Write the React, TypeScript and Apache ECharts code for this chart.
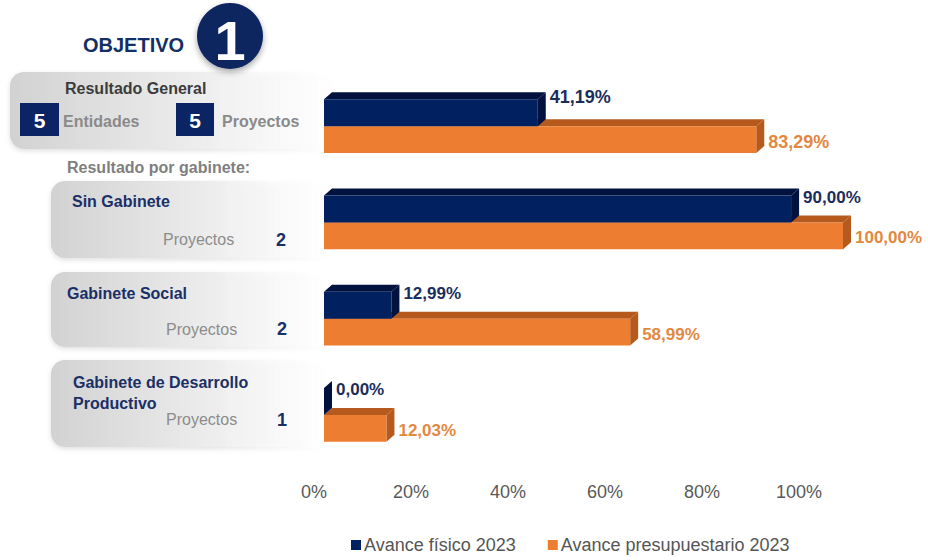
import React, { useEffect, useRef } from "react";
import * as echarts from "echarts";

const generalCategory = ["Resultado General"];
const generalFisico = [41.19];
const generalPresup = [83.29];
const gabinetes = ["Sin Gabinete", "Gabinete Social", "Gabinete de Desarrollo Productivo"];
const fisico = [90.0, 12.99, 0.0];
const presupuestario = [100.0, 58.99, 12.03];
const proyectosPorGabinete = [2, 2, 1];
const totalEntidades = 5;
const totalProyectos = 5;
const seriesNames = ["Avance físico 2023", "Avance presupuestario 2023"];
const axisTicks = { min: 0, max: 100, interval: 20 };

const categories = [...generalCategory, ...gabinetes];
const fisicoAll = [...generalFisico, ...fisico];
const presupAll = [...generalPresup, ...presupuestario];

const FONT = '"Liberation Sans", Arial, sans-serif';
const NAVY = "#002060";
const NAVY_DARK = "#00123d";
const ORANGE = "#ED7D31";
const ORANGE_DARK = "#B5591C";
const NAVY_LABEL = "#1b2d5c";
const ORANGE_LABEL = "#E3883F";

const fmt = (v: number) => v.toFixed(2).replace(".", ",") + "%";

function bar3D(front: string, dark: string, labelColor: string, upper: boolean) {
  return (params: any, api: any) => {
    const v = api.value(0);
    const ci = api.value(1);
    const start = api.coord([0, ci]);
    const end = api.coord([v, ci]);
    const band = api.size([0, 1])[1];
    const h = band * 0.28;
    const cy = start[1];
    const y0 = upper ? cy - h : cy;
    const y1 = y0 + h;
    const x0 = start[0];
    const x1 = end[0];
    const dx = 8;
    const dy = -7;
    const fontSize = ci === 0 ? 18 : 17;
    const children: any[] = [
      {
        type: "polygon",
        shape: { points: [[x0, y0], [x0 + dx, y0 + dy], [x1 + dx, y0 + dy], [x1, y0]] },
        style: { fill: dark },
      },
      {
        type: "polygon",
        shape: { points: [[x1, y0], [x1 + dx, y0 + dy], [x1 + dx, y1 + dy], [x1, y1]] },
        style: { fill: dark },
      },
      {
        type: "rect",
        shape: { x: x0, y: y0, width: Math.max(0, x1 - x0), height: h },
        style: { fill: front },
      },
      {
        type: "text",
        x: x1 + dx + 4,
        y: upper ? (ci === 0 ? y0 - 2 : y0 + 2) : (y0 + y1) / 2 + 2,
        style: {
          text: fmt(v),
          fill: labelColor,
          fontSize,
          fontWeight: "bold",
          fontFamily: FONT,
          verticalAlign: "middle",
          align: "left",
        },
      },
    ];
    return { type: "group", children };
  };
}

function panel(x: number, y: number, w: number, h: number) {
  return {
    type: "rect",
    z: 0,
    shape: { x, y, width: w, height: h, r: 14 },
    style: {
      fill: {
        type: "linear",
        x: 0,
        y: 0,
        x2: 1,
        y2: 0,
        colorStops: [
          { offset: 0, color: "#d2d2d2" },
          { offset: 0.55, color: "#ececec" },
          { offset: 1, color: "rgba(255,255,255,0)" },
        ],
      },
      shadowBlur: 5,
      shadowOffsetY: 2,
      shadowColor: "rgba(0,0,0,0.12)",
    },
  };
}

function txt(text: string, x: number, y: number, size: number, color: string, bold = true, align = "left") {
  return {
    type: "text",
    z: 5,
    x,
    y,
    style: {
      text,
      fill: color,
      fontSize: size,
      fontWeight: bold ? "bold" : "normal",
      fontFamily: FONT,
      verticalAlign: "middle",
      align,
    },
  };
}

export default function App() {
  const ref = useRef<HTMLDivElement>(null);
  useEffect(() => {
    if (!ref.current) return;
    const chart = echarts.init(ref.current, null, { renderer: "svg" });
    const panelRows = [
      { y: 181, h: 77 },
      { y: 272, h: 75 },
      { y: 360, h: 87 },
    ];
    const graphics: any[] = [
      panel(10, 72, 330, 77),
      ...panelRows.map((p) => panel(51, p.y, 280, p.h)),
      txt("OBJETIVO", 83, 45, 20, "#142f66"),
      {
        type: "circle",
        z: 5,
        shape: { cx: 230, cy: 36, r: 33 },
        style: { fill: "#0d2660", shadowBlur: 6, shadowOffsetY: 3, shadowColor: "rgba(0,0,0,0.35)" },
      },
      txt("1", 230, 40, 56, "#ffffff", true, "center"),
      txt(generalCategory[0], 65, 88, 16, "#3c3c3c"),
      { type: "rect", z: 5, shape: { x: 20, y: 103, width: 39, height: 33 }, style: { fill: "#0b2463" } },
      txt(String(totalEntidades), 39.5, 120, 21, "#ffffff", true, "center"),
      txt("Entidades", 63, 121, 16, "#8a8a8a"),
      { type: "rect", z: 5, shape: { x: 176, y: 103, width: 38, height: 33 }, style: { fill: "#0b2463" } },
      txt(String(totalProyectos), 195, 120, 21, "#ffffff", true, "center"),
      txt("Proyectos", 222, 121, 16, "#8a8a8a"),
      txt("Resultado por gabinete:", 67, 167, 16, "#7f7f7f"),
      txt(gabinetes[0], 72, 201, 16, "#1a2f66"),
      txt("Proyectos", 163, 239, 16, "#8c8c8c", false),
      txt(String(proyectosPorGabinete[0]), 276, 240, 18, "#1a2f66"),
      txt(gabinetes[1], 67, 293, 16, "#1a2f66"),
      txt("Proyectos", 166, 329, 16, "#8c8c8c", false),
      txt(String(proyectosPorGabinete[1]), 277, 329, 18, "#1a2f66"),
      txt("Gabinete de Desarrollo", 73, 382, 16, "#1a2f66"),
      txt("Productivo", 73, 403, 16, "#1a2f66"),
      txt("Proyectos", 166, 419, 16, "#8c8c8c", false),
      txt(String(proyectosPorGabinete[2]), 277, 420, 18, "#1a2f66"),
    ];

    const option: any = {
      animation: false,
      backgroundColor: "#ffffff",
      textStyle: { fontFamily: FONT },
      legend: {
        data: seriesNames,
        left: 351,
        top: 536,
        icon: "rect",
        itemWidth: 10,
        itemHeight: 10,
        itemGap: 32,
        padding: 0,
        textStyle: { color: "#555555", fontSize: 18, fontFamily: FONT, padding: [0, 0, 0, -2] },
      },
      grid: [
        { left: 324, top: 78, width: 519, height: 385 },
        { left: 314, top: 78, width: 485, height: 385 },
      ],
      xAxis: [
        { gridIndex: 0, type: "value", min: axisTicks.min, max: axisTicks.max, show: false },
        {
          gridIndex: 1,
          type: "value",
          min: axisTicks.min,
          max: axisTicks.max,
          interval: axisTicks.interval,
          axisLine: { show: false },
          axisTick: { show: false },
          splitLine: { show: false },
          axisLabel: {
            formatter: "{value}%",
            color: "#595959",
            fontSize: 18,
            fontFamily: FONT,
            margin: 20,
          },
        },
      ],
      yAxis: [
        { gridIndex: 0, type: "category", data: categories, inverse: true, show: false },
        { gridIndex: 1, type: "category", data: categories, inverse: true, show: false },
      ],
      series: [
        {
          name: seriesNames[0],
          type: "custom",
          xAxisIndex: 0,
          yAxisIndex: 0,
          z: 4,
          itemStyle: { color: NAVY },
          encode: { x: 0, y: 1 },
          data: fisicoAll.map((v, i) => [v, i]),
          renderItem: bar3D(NAVY, NAVY_DARK, NAVY_LABEL, true),
        },
        {
          name: seriesNames[1],
          type: "custom",
          xAxisIndex: 0,
          yAxisIndex: 0,
          z: 3,
          itemStyle: { color: ORANGE },
          encode: { x: 0, y: 1 },
          data: presupAll.map((v, i) => [v, i]),
          renderItem: bar3D(ORANGE, ORANGE_DARK, ORANGE_LABEL, false),
        },
      ],
      graphic: { elements: graphics },
    };
    chart.setOption(option);
    return () => chart.dispose();
  }, []);
  return <div ref={ref} style={{ width: 928, height: 560, position: "absolute", left: 0, top: 0 }} />;
}
